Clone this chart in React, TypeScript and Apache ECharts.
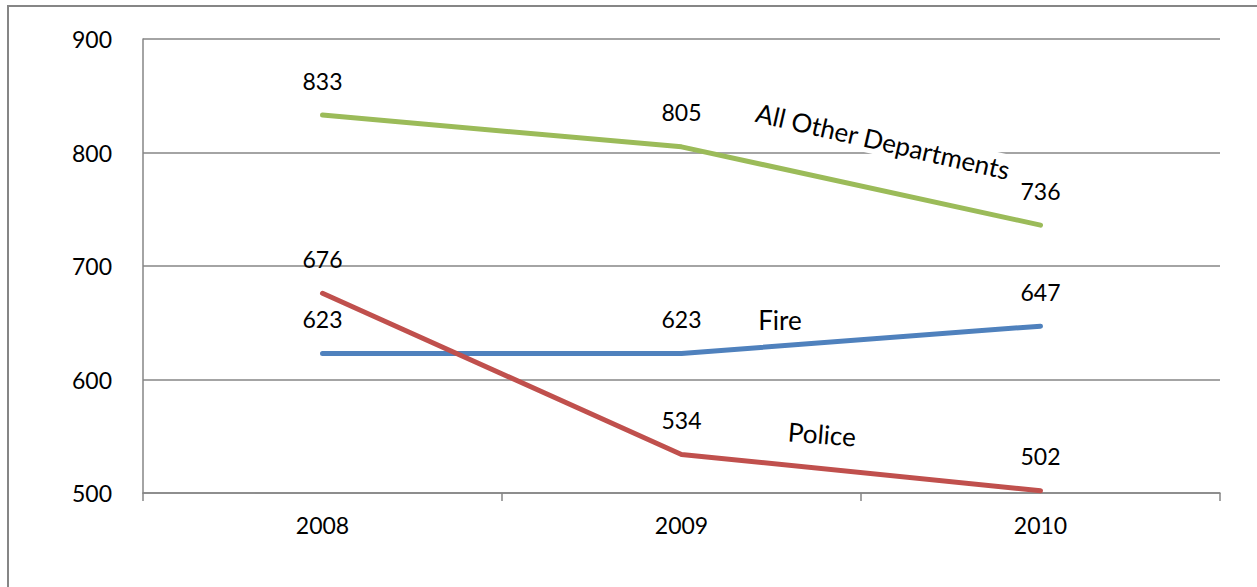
import React, { useEffect, useRef } from "react";
import * as echarts from "echarts";

const years = ["2008", "2009", "2010"];
const otherDepartments = [833, 805, 736];
const fire = [623, 623, 647];
const police = [676, 534, 502];
const yTicks = { min: 500, max: 900, interval: 100 };

const FONT = "Lato, 'Open Sans', sans-serif";
const GRAY = "#868686";

function lineSeries(name: string, data: number[], color: string) {
  return {
    name,
    type: "line",
    data,
    symbol: "circle",
    symbolSize: 0,
    itemStyle: { color },
    lineStyle: { color, width: 5, cap: "round", join: "round" },
    label: {
      show: true,
      position: "top",
      distance: 23,
      color: "#000",
      fontSize: 23,
      fontFamily: FONT,
    },
    z: 3,
  };
}

export default function App() {
  const ref = useRef<HTMLDivElement>(null);

  useEffect(() => {
    if (!ref.current) return;
    const chart = echarts.init(ref.current, undefined, { renderer: "svg" });
    chart.setOption({
      animation: false,
      backgroundColor: "#fff",
      grid: { left: 143, right: 37, top: 39, bottom: 94 },
      xAxis: {
        type: "category",
        data: years,
        boundaryGap: true,
        axisLine: { show: true, lineStyle: { color: GRAY, width: 1.5 } },
        axisTick: { show: true, length: 8, lineStyle: { color: GRAY, width: 1.5 } },
        axisLabel: { color: "#000", fontSize: 23, fontFamily: FONT, margin: 20 },
        splitLine: { show: false },
      },
      yAxis: {
        type: "value",
        min: yTicks.min,
        max: yTicks.max,
        interval: yTicks.interval,
        axisLine: { show: true, lineStyle: { color: GRAY, width: 1.5 } },
        axisTick: { show: false },
        axisLabel: { color: "#000", fontSize: 23, fontFamily: FONT, margin: 31 },
        splitLine: { show: true, lineStyle: { color: GRAY, width: 1.5 } },
      },
      series: [
        lineSeries("All Other Departments", otherDepartments, "#9BBB59"),
        lineSeries("Fire", fire, "#4F81BD"),
        lineSeries("Police", police, "#C0504D"),
      ],
      graphic: [
        {
          type: "rect",
          silent: true,
          z: 0,
          shape: { x: 8, y: 6, width: 1400, height: 800 },
          style: { fill: "none", stroke: GRAY, lineWidth: 2 },
        },
        {
          type: "text",
          x: 883,
          y: 141,
          rotation: -0.227,
          z: 2,
          style: {
            text: "All Other Departments",
            font: `26px ${FONT}`,
            fill: "#000",
            align: "center",
            verticalAlign: "middle",
            backgroundColor: "#fff",
            padding: [2, 6],
          },
        },
        {
          type: "text",
          x: 780,
          y: 320,
          z: 2,
          style: {
            text: "Fire",
            font: `26px ${FONT}`,
            fill: "#000",
            align: "center",
            verticalAlign: "middle",
          },
        },
        {
          type: "text",
          x: 822,
          y: 434,
          rotation: -0.08,
          z: 2,
          style: {
            text: "Police",
            font: `26px ${FONT}`,
            fill: "#000",
            align: "center",
            verticalAlign: "middle",
          },
        },
      ],
    });
    return () => chart.dispose();
  }, []);

  return (
    <div
      ref={ref}
      style={{ position: "absolute", left: 0, top: 0, width: 1257, height: 587 }}
    />
  );
}
